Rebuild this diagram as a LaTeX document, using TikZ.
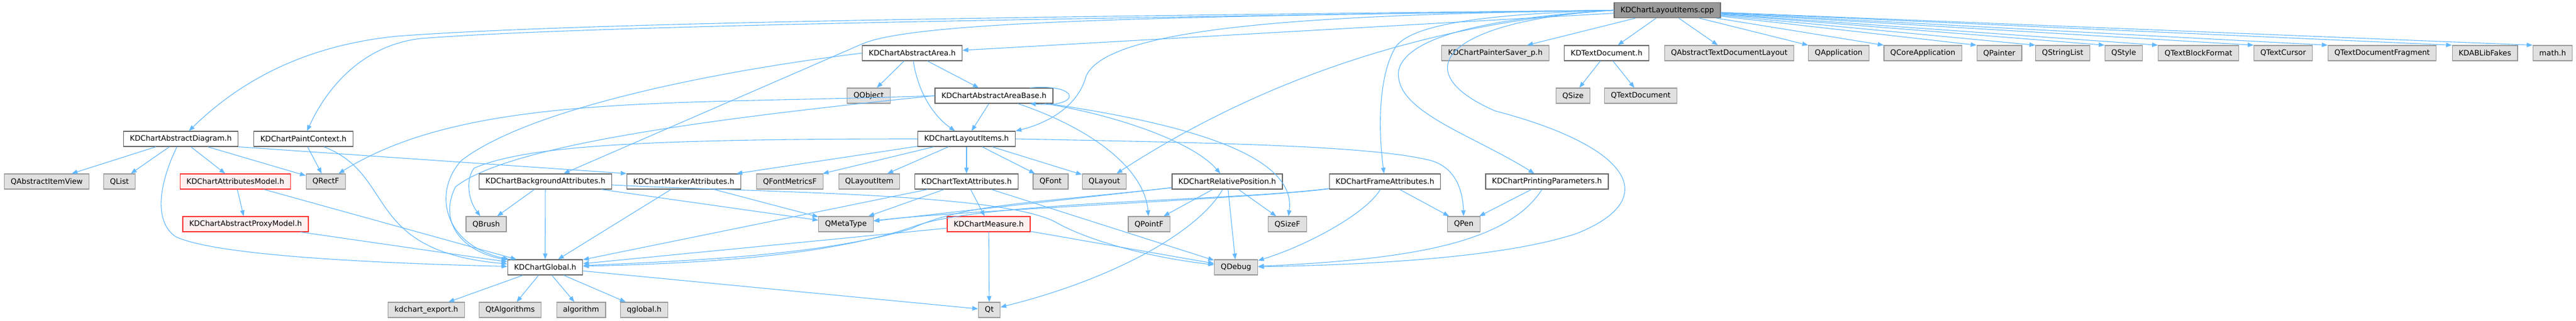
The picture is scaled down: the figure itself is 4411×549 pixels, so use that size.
\documentclass[tikz,border=0pt]{standalone}
\usepackage{fontspec}
\setmainfont{DejaVu Sans}
\usetikzlibrary{arrows.meta}

\definecolor{incline}{HTML}{63B8FF}
\definecolor{hdrline}{HTML}{666666}
\definecolor{curfill}{HTML}{999999}
\definecolor{sysfill}{HTML}{E0E0E0}
\definecolor{sysline}{HTML}{999999}
\definecolor{badfill}{HTML}{FFF0F0}
\definecolor{badline}{HTML}{FF3030}

\tikzset{
  box/.style={rectangle, minimum height=26pt, inner xsep=11pt, inner ysep=0pt,
    line width=1.2pt, font=\fontsize{12.8}{15}\selectfont},
  cur/.style={box, fill=curfill, draw=hdrline},
  hdr/.style={box, fill=white, draw=hdrline},
  sys/.style={box, fill=sysfill, draw=sysline},
  bad/.style={box, fill=badfill, draw=badline},
  inc/.style={draw=incline, line width=1.1pt, -{Triangle[length=10pt,width=7.5pt]}},
}

\begin{document}
\begin{tikzpicture}[x=1pt, y=-1pt]
        \useasboundingbox (0,0) rectangle (4411,549);

        % The file itself
        \node[cur] (cpp) at (2855,17.5) {KDChartLayoutItems.cpp};

        % Direct includes
        \node[hdr] (area) at (1562,91) {KDChartAbstractArea.h};
        \node[sys] (saver) at (2560.5,91) {KDChartPainterSaver\_p.h};
        \node[hdr] (tdoc) at (2751,91) {KDTextDocument.h};
        \node[sys] (qatdl) at (2961,91) {QAbstractTextDocumentLayout};
        \node[sys] (qapp) at (3148.5,91) {QApplication};
        \node[sys] (qcapp) at (3292.5,91) {QCoreApplication};
        \node[sys] (qpainter) at (3423.5,91) {QPainter};
        \node[sys] (qsl) at (3532,91) {QStringList};
        \node[sys] (qstyle) at (3636.5,91) {QStyle};
        \node[sys] (qtbf) at (3764.5,91) {QTextBlockFormat};
        \node[sys] (qtc) at (3909.5,91) {QTextCursor};
        \node[sys] (qtdf) at (4079,91) {QTextDocumentFragment};
        \node[sys] (fakes) at (4255,91) {KDABLibFakes};
        \node[sys] (mathh) at (4371,91) {math.h};

        \node[sys] (qobject) at (1487.5,164) {QObject};
        \node[hdr] (base) at (1702,164) {KDChartAbstractAreaBase.h};
        \node[sys] (qsize) at (2693.5,164) {QSize};
        \node[sys] (qtextdoc) at (2809.5,164) {QTextDocument};

        \node[hdr] (diag) at (309.5,238) {KDChartAbstractDiagram.h};
        \node[hdr] (paint) at (519.5,238) {KDChartPaintContext.h};
        \node[hdr] (items) at (1655,238) {KDChartLayoutItems.h};

        % Attribute headers
        \node[sys] (qaiv) at (80,311) {QAbstractItemView};
        \node[sys] (qlist) at (204.5,311) {QList};
        \node[bad] (attmodel) at (403,311) {KDChartAttributesModel.h};
        \node[sys] (qrectf) at (558,311) {QRectF};
        \node[hdr] (bgattr) at (934,311) {KDChartBackgroundAttributes.h};
        \node[hdr] (mkattr) at (1171,311) {KDChartMarkerAttributes.h};
        \node[sys] (qfm) at (1352.5,311) {QFontMetricsF};
        \node[sys] (qli) at (1488.5,311) {QLayoutItem};
        \node[hdr] (txattr) at (1655,311) {KDChartTextAttributes.h};
        \node[sys] (qfont) at (1799,311) {QFont};
        \node[sys] (qlayout) at (1891,311) {QLayout};
        \node[hdr] (relpos) at (2101.5,311) {KDChartRelativePosition.h};
        \node[hdr] (frattr) at (2371.5,311) {KDChartFrameAttributes.h};
        \node[hdr] (printp) at (2649,311) {KDChartPrintingParameters.h};

        \node[bad] (proxy) at (420.5,384) {KDChartAbstractProxyModel.h};
        \node[sys] (qbrush) at (832.5,384) {QBrush};
        \node[sys] (qmeta) at (1448.5,384) {QMetaType};
        \node[bad] (measure) at (1693,384) {KDChartMeasure.h};
        \node[sys] (qpointf) at (1967.5,384) {QPointF};
        \node[sys] (qsizef) at (2204.5,384) {QSizeF};
        \node[sys] (qpen) at (2506.5,384) {QPen};

        % Global header and below
        \node[hdr] (global) at (933.5,458) {KDChartGlobal.h};
        \node[sys] (qdebug) at (2116.5,458) {QDebug};

        \node[sys] (export) at (730,531) {kdchart\_export.h};
        \node[sys] (qtalg) at (873.5,531) {QtAlgorithms};
        \node[sys] (algo) at (995,531) {algorithm};
        \node[sys] (qglobal) at (1103,531) {qglobal.h};
        \node[sys] (qt) at (1694,531) {Qt};

        % Includes of the .cpp
        \draw[inc] (cpp) -- (area);
        \draw[inc] (cpp) -- (saver);
        \draw[inc] (cpp) -- (tdoc);
        \draw[inc] (cpp) -- (qatdl);
        \draw[inc] (cpp) -- (qapp.north west);
        \draw[inc] (cpp) -- (qcapp.north west);
        \draw[inc] (cpp) -- (qpainter.north west);
        \draw[inc] (cpp) -- (qsl.north west);
        \draw[inc] (cpp) -- (qstyle.north west);
        \draw[inc] (cpp) -- (qtbf.north west);
        \draw[inc] (cpp) -- (qtc.north west);
        \draw[inc] (cpp) -- (qtdf.north west);
        \draw[inc] (cpp) -- (fakes.north west);
        \draw[inc] (cpp) -- (mathh.north west);
        \draw[inc] (cpp.west) .. controls (1800,28) and (1000,38) .. (680,62) .. controls (520,78) and (410,140) .. (diag);
        \draw[inc] (cpp.west) .. controls (1800,32) and (1000,44) .. (720,66) .. controls (620,78) and (560,150) .. (paint);
        \draw[inc] (cpp.west) .. controls (2300,25) and (1900,40) .. (1860,130) .. controls (1845,185) and (1790,212) .. (items.north east);
        \draw[inc] (cpp.west) .. controls (2100,28) and (1577,32) .. (1477,75) -- (bgattr);
        \draw[inc] (cpp.west) .. controls (2550,24) and (2420,40) .. (2390,80) .. controls (2360,130) and (2360,220) .. (frattr);
        \draw[inc] (cpp.west) .. controls (2560,30) and (2410,60) .. (2395,120) .. controls (2385,190) and (2520,230) .. (printp);
        \draw[inc] (cpp.west) .. controls (2480,35) and (2400,120) .. (2560,190) .. controls (2790,250) and (2850,340) .. (2700,400) .. controls (2550,450) and (2250,455) .. (qdebug);
        \draw[inc] (cpp.west) .. controls (2500,35) and (2200,110) .. (qlayout);

        % Area headers
        \draw[inc] (area) -- (qobject);
        \draw[inc] (area) -- (base);
        \draw[inc] (area) .. controls (1572,160) and (1600,200) .. (items);
        \draw[inc] (area.west) .. controls (1200,125) and (900,190) .. (790,275) .. controls (740,330) and (760,420) .. (global);
        \draw[inc] (base.west) .. controls (1150,180) and (800,160) .. (qrectf);
        \draw[inc] (base.west) .. controls (1200,205) and (870,250) .. (780,320) .. controls (750,380) and (790,430) .. (global);
        \draw[inc] (base) -- (items);
        \draw[inc] (base) .. controls (1900,195) and (2040,240) .. (relpos);
        \draw[inc] (base) .. controls (2050,215) and (2220,270) .. (qsizef);
        \draw[inc] (base) .. controls (1870,220) and (1960,290) .. (qpointf);
        \draw[inc] ([xshift=-40pt]base.north east) .. controls (1852,143) and (1852,185) .. ([xshift=-40pt]base.south east);

        % Layout items header
        \draw[inc] (items) -- (mkattr);
        \draw[inc] (items) -- (qfm);
        \draw[inc] (items) -- (qli);
        \draw[inc] (items) -- (txattr);
        \draw[inc] (items) -- (qfont);
        \draw[inc] (items) -- (qlayout);
        \draw[inc] (items.west) .. controls (1100,238) and (900,250) .. (812,288) .. controls (798,305) and (800,340) .. (qbrush);
        \draw[inc] (items.east) .. controls (2100,245) and (2350,250) .. (2450,275) .. controls (2495,288) and (2505,330) .. (qpen);

        % Attributes
        \draw[inc] (txattr) -- (qmeta);
        \draw[inc] (txattr) -- (global);
        \draw[inc] (txattr) -- (measure);
        \draw[inc] (txattr) -- (qdebug);
        \draw[inc] (measure) -- (global);
        \draw[inc] (measure) -- (qt);
        \draw[inc] (measure) -- (qdebug);
        \draw[inc] (relpos) -- (qmeta);
        \draw[inc] (relpos) .. controls (1750,350) and (1650,350) .. (1560,392) .. controls (1400,440) and (1150,448) .. (global);
        \draw[inc] (relpos) -- (qpointf);
        \draw[inc] (relpos) -- (qsizef);
        \draw[inc] (relpos) -- (qdebug);
        \draw[inc] (relpos) .. controls (2050,400) and (1900,480) .. (qt);
        \draw[inc] (frattr) .. controls (2150,340) and (1650,360) .. (qmeta);
        \draw[inc] (frattr) .. controls (2100,345) and (1680,345) .. (1565,388) .. controls (1400,445) and (1150,452) .. (global);
        \draw[inc] (frattr) -- (qpen);
        \draw[inc] (frattr) .. controls (2340,365) and (2240,420) .. (qdebug);
        \draw[inc] (printp) -- (qpen);
        \draw[inc] (printp) .. controls (2580,420) and (2400,445) .. (qdebug);
        \draw[inc] (bgattr) -- (qbrush);
        \draw[inc] (bgattr) -- (global);
        \draw[inc] (bgattr) -- (qmeta);
        \draw[inc] (bgattr) .. controls (1300,330) and (1720,330) .. (1810,382) .. controls (1860,410) and (1960,440) .. (qdebug);
        \draw[inc] (mkattr) -- (qmeta);
        \draw[inc] (mkattr) -- (global);

        % Diagram side
        \draw[inc] (diag) -- (qaiv);
        \draw[inc] (diag) -- (qlist);
        \draw[inc] (diag) -- (attmodel);
        \draw[inc] (diag) -- (qrectf);
        \draw[inc] (diag.south east) -- (mkattr.north west);
        \draw[inc] (diag) .. controls (270,320) and (265,380) .. (300,405) .. controls (360,435) and (600,450) .. (global);
        \draw[inc] (paint) -- (qrectf);
        \draw[inc] (paint) .. controls (680,300) and (620,430) .. (global);
        \draw[inc] (attmodel) -- (proxy);
        \draw[inc] (attmodel) -- (global);
        \draw[inc] (proxy) -- (global);

        % Global header
        \draw[inc] (global) -- (export);
        \draw[inc] (global) -- (qtalg);
        \draw[inc] (global) -- (algo);
        \draw[inc] (global) -- (qglobal);
        \draw[inc] (global) -- (qt);

        % Text document
        \draw[inc] (tdoc) -- (qsize);
        \draw[inc] (tdoc) -- (qtextdoc);
\end{tikzpicture}
\end{document}
